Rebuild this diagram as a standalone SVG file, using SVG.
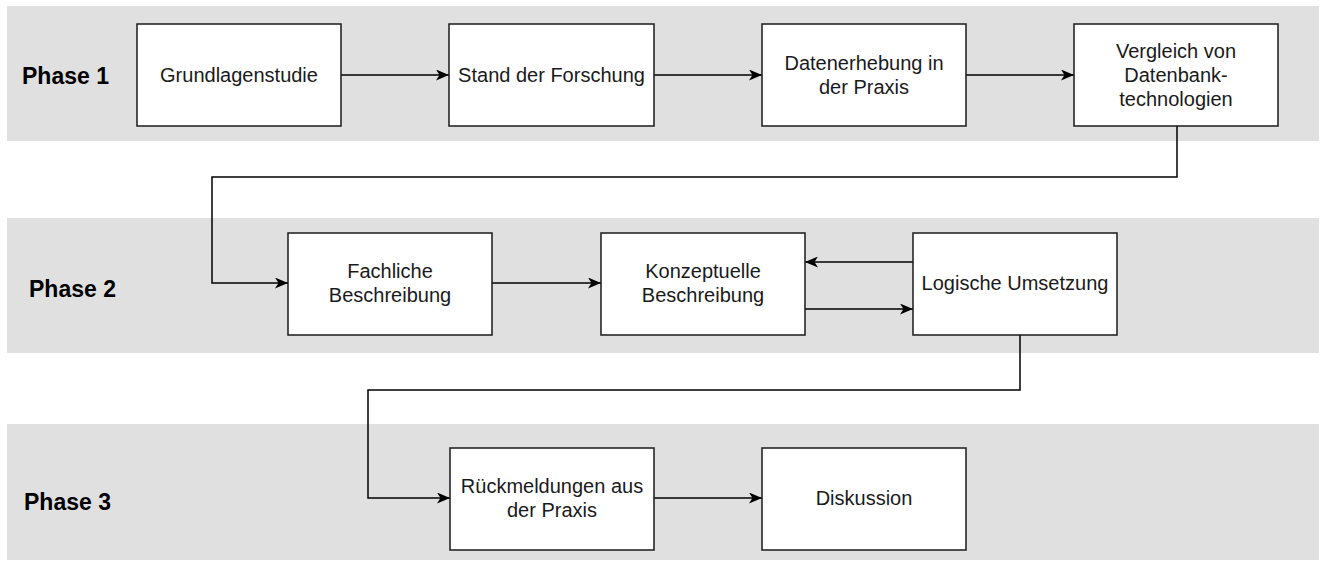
<svg xmlns="http://www.w3.org/2000/svg" width="1322" height="562" viewBox="0 0 1322 562">
<style>
.band{fill:#e0e0e0}
.box{fill:#fff;stroke:#1a1a1a;stroke-width:1.5}
.t{font-family:"Liberation Sans",Arial,sans-serif;font-size:20px;fill:#1a1a1a;text-anchor:middle}
.ph{font-family:"Liberation Sans",Arial,sans-serif;font-size:23px;font-weight:bold;fill:#000}
.c{fill:none;stroke:#000;stroke-width:1.5}
</style>
<defs>
<marker id="ah" viewBox="0 0 13 11" refX="13" refY="5.5" markerWidth="13" markerHeight="11" markerUnits="userSpaceOnUse" orient="auto">
<path d="M0,0 L13,5.5 L0,11 L3.5,5.5 Z" fill="#000"/>
</marker>
</defs>
<g id="bands">
<rect class="band" x="7" y="6" width="1312" height="135"/>
<rect class="band" x="7" y="218" width="1312" height="135"/>
<rect class="band" x="7" y="424" width="1312" height="136"/>
<text class="ph" x="22" y="84">Phase 1</text>
<text class="ph" x="29" y="297">Phase 2</text>
<text class="ph" x="24" y="510">Phase 3</text>
</g>
<g id="connectors">
<path class="c" d="M341,75 H449" marker-end="url(#ah)"/>
<path class="c" d="M654,75 H762" marker-end="url(#ah)"/>
<path class="c" d="M966,75 H1074" marker-end="url(#ah)"/>
<path class="c" d="M1177,126 V177 H212 V283 H288" marker-end="url(#ah)"/>
<path class="c" d="M492,283 H601" marker-end="url(#ah)"/>
<path class="c" d="M913,262 H805" marker-end="url(#ah)"/>
<path class="c" d="M805,309 H913" marker-end="url(#ah)"/>
<path class="c" d="M1020,335 V390 H368 V498 H450" marker-end="url(#ah)"/>
<path class="c" d="M654,498 H762" marker-end="url(#ah)"/>
</g>
<g id="n1"><rect class="box" x="137" y="24" width="204" height="102"/><text class="t" x="239" y="82">Grundlagenstudie</text></g>
<g id="n2"><rect class="box" x="449" y="24" width="205" height="102"/><text class="t" x="551.5" y="82">Stand der Forschung</text></g>
<g id="n3"><rect class="box" x="762" y="24" width="204" height="102"/><text class="t" x="864" y="70">Datenerhebung in</text><text class="t" x="864" y="94">der Praxis</text></g>
<g id="n4"><rect class="box" x="1074" y="24" width="204" height="102"/><text class="t" x="1176" y="58">Vergleich von</text><text class="t" x="1176" y="82">Datenbank-</text><text class="t" x="1176" y="106">technologien</text></g>
<g id="n5"><rect class="box" x="288" y="233" width="204" height="102"/><text class="t" x="390" y="278">Fachliche</text><text class="t" x="390" y="302">Beschreibung</text></g>
<g id="n6"><rect class="box" x="601" y="233" width="204" height="102"/><text class="t" x="703" y="278">Konzeptuelle</text><text class="t" x="703" y="302">Beschreibung</text></g>
<g id="n7"><rect class="box" x="913" y="233" width="204" height="102"/><text class="t" x="1015" y="290">Logische Umsetzung</text></g>
<g id="n8"><rect class="box" x="450" y="448" width="204" height="102"/><text class="t" x="552" y="493">Rückmeldungen aus</text><text class="t" x="552" y="517">der Praxis</text></g>
<g id="n9"><rect class="box" x="762" y="448" width="204" height="102"/><text class="t" x="864" y="505">Diskussion</text></g>
</svg>
